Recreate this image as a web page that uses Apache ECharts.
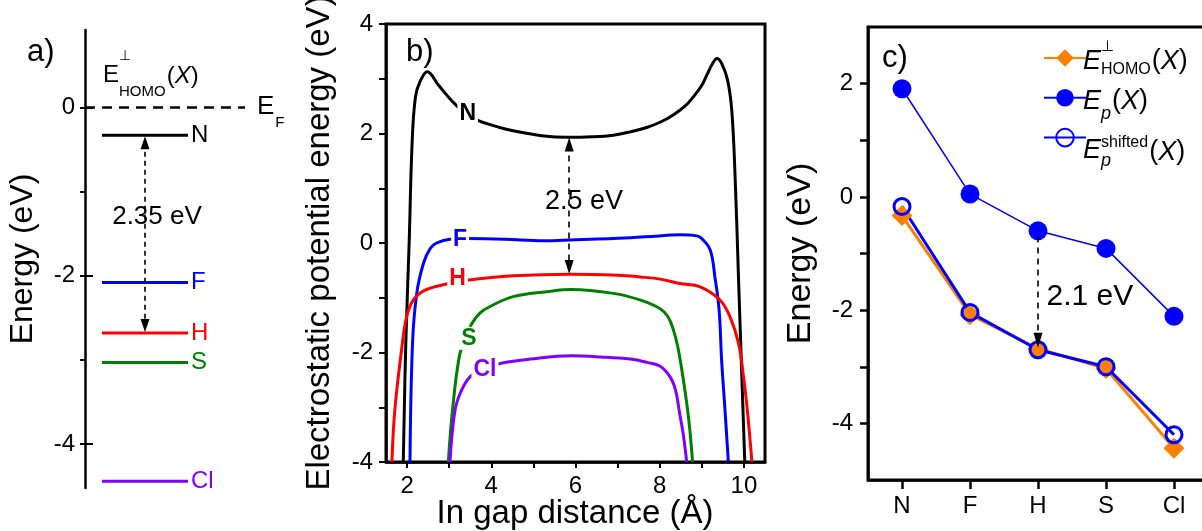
<!DOCTYPE html>
<html>
<head>
<meta charset="utf-8">
<script src="https://cdn.jsdelivr.net/npm/echarts@6/dist/echarts.min.js"></script>
<style>html,body{margin:0;padding:0;background:#fff}#chart{width:1202px;height:531px}</style>
</head>
<body>
<div id="chart"></div>
<script>
// ---------------- DATA ----------------
const species = ['N', 'F', 'H', 'S', 'Cl'];
const speciesColors = ['#000000', '#0000FF', '#FF0000', '#008000', '#8000FF'];
// E_HOMO^perp(X)  (panel a levels and panel c orange diamonds)
const homoLevels = [-0.33, -2.08, -2.68, -3.03, -4.44];
// E_p(X)  (panel c filled circles)
const epValues = [1.91, 0.05, -0.60, -0.91, -2.11];
// E_p^shifted(X)  (panel c open circles)
const epShiftedValues = [-0.17, -2.04, -2.70, -3.00, -4.20];

// panel b: electrostatic potential energy vs in-gap distance [Å, eV]
const potN = [[1.91,-4],[1.97,-1.83],[2.05,0],[2.12,1.83],[2.2,2.67],[2.31,2.95],[2.48,3.13],[2.75,2.88],[3.06,2.6],[3.3,2.42],[3.65,2.25],[4.2,2.11],[4.52,2.05],[5.2,1.96],[5.8,1.93],[6.4,1.94],[6.9,1.97],[7.3,2.03],[7.69,2.11],[8.02,2.21],[8.32,2.34],[8.6,2.5],[8.8,2.67],[9.0,2.88],[9.12,3.07],[9.25,3.27],[9.36,3.37],[9.47,3.28],[9.61,2.98],[9.71,2.43],[9.79,1.21],[9.87,-0.62],[9.95,-2.44],[10.02,-4]];
const potF = [[2.07,-4],[2.13,-1.83],[2.23,-0.92],[2.39,-0.37],[2.55,-0.1],[2.7,0],[3.02,0.07],[3.42,0.08],[4.3,0.07],[5.24,0.04],[6.0,0.06],[6.9,0.08],[7.8,0.12],[8.48,0.15],[8.88,0.13],[9.0,0.08],[9.2,-0.13],[9.31,-0.62],[9.41,-1.22],[9.47,-2.14],[9.55,-3.05],[9.63,-4]];
const potH = [[1.64,-4],[1.71,-3.05],[1.87,-1.95],[1.99,-1.35],[2.15,-1.04],[2.43,-0.86],[2.94,-0.75],[3.42,-0.68],[4.52,-0.6],[5.87,-0.57],[7.0,-0.59],[7.53,-0.62],[8.01,-0.66],[8.48,-0.74],[8.96,-0.8],[9.43,-1.04],[9.67,-1.35],[9.87,-1.83],[9.99,-2.44],[10.08,-3.05],[10.19,-4]];
const potS = [[2.98,-4],[3.08,-3.05],[3.24,-2.08],[3.4,-1.7],[3.54,-1.47],[3.73,-1.28],[3.97,-1.16],[4.52,-0.98],[5.32,-0.89],[5.9,-0.85],[6.9,-0.92],[7.53,-1.04],[8.01,-1.2],[8.2,-1.35],[8.33,-1.6],[8.43,-1.9],[8.5,-2.2],[8.6,-2.7],[8.7,-3.3],[8.78,-4]];
const potCl = [[3.02,-4],[3.14,-3.05],[3.3,-2.68],[3.5,-2.44],[3.8,-2.3],[4.21,-2.2],[4.92,-2.12],[5.9,-2.06],[6.6,-2.08],[7.3,-2.12],[7.7,-2.18],[8.01,-2.25],[8.25,-2.45],[8.38,-2.7],[8.47,-3.1],[8.56,-3.5],[8.64,-4]];
const potCurves = [potN, potF, potH, potS, potCl];

// tick values / labels
const aYTicks = [0, -1, -2, -3, -4];
const aYLabels = [0, -2, -4];
const bXTicks = [2, 3, 4, 5, 6, 7, 8, 9, 10];
const bXLabels = [2, 4, 6, 8, 10];
const bYTicks = [-4, -3, -2, -1, 0, 1, 2, 3, 4];
const bYLabels = [-4, -2, 0, 2, 4];
const cYTicks = [-4, -3, -2, -1, 0, 1, 2];
const cYLabels = [-4, -2, 0, 2];

// annotations
const gapA = '2.35 eV', gapB = '2.5 eV', gapC = '2.1 eV';

// ---------------- STYLE / LAYOUT ----------------
const FONT = "'Liberation Sans', Arial, Helvetica, sans-serif";
const AX = '#000';
const ORANGE = '#FF8000', BLUE = '#0000FF';

const mctx = document.createElement('canvas').getContext('2d');
function tw(t, size, fstyle) { mctx.font = (fstyle || 'normal') + ' ' + size + 'px ' + FONT; return mctx.measureText(t).width; }
function txt(x, y, text, size, fstyle, align) {
  return { type: 'text', x: x, y: y, z: 100,
    style: { text: text, fontSize: size, fontFamily: FONT, fontStyle: fstyle || 'normal', fill: '#000',
      textAlign: align || 'left', textVerticalAlign: 'middle', align: align || 'left', verticalAlign: 'middle' } };
}
function tailX(x, y, size) {
  return { type: 'text', x: x, y: y, z: 100,
    style: { text: '{n|(}{i|X}{n|)}', fill: '#000', textAlign: 'left', textVerticalAlign: 'middle', align: 'left', verticalAlign: 'middle',
      rich: { n: { fontSize: size, fontFamily: FONT, fill: '#000' }, i: { fontSize: size, fontFamily: FONT, fontStyle: 'italic', fill: '#000' } } } };
}
// symbol with stacked super/subscript then "(X)"
function scripted(x, y, o) {
  const els = [];
  const ms = o.mainItalic ? 'italic' : 'normal';
  els.push(txt(x, y, o.main, o.mainSize, ms));
  const x2 = x + tw(o.main, o.mainSize, ms) + (o.gap || 0);
  let w = 0;
  if (o.sup) { els.push(txt(x2 + (o.supDx || 0), y + o.supDy, o.sup, o.supSize, 'normal')); w = Math.max(w, tw(o.sup, o.supSize) + (o.supDx || 0)); }
  if (o.sub) { const ss = o.subItalic ? 'italic' : 'normal'; els.push(txt(x2, y + o.subDy, o.sub, o.subSize, ss)); w = Math.max(w, tw(o.sub, o.subSize, ss)); }
  els.push(tailX(x2 + w + 1, y + (o.tailDy || 0), o.mainSize));
  return els;
}

const tickLabel = { color: AX, fontSize: 24, fontFamily: FONT };
const titleText = { color: AX, fontSize: 33, fontFamily: FONT };
const noLine = { show: false, onZero: false };
const blackLine = { show: true, onZero: false, lineStyle: { color: AX, width: 2.5 } };
const hiddenItem = { color: 'rgba(0,0,0,0)', opacity: 1 };

// panel a layout constants (x-axis units of the hidden axis)
const levelStart = 17, levelEnd = 103, efEnd = 160, arrowAx = 60;

const series = [];

// ---- panel a ----
species.forEach((s, i) => {
  series.push({
    name: 'a-' + s, type: 'line', xAxisIndex: 0, yAxisIndex: 0, symbol: 'none', silent: true,
    data: [[levelStart, homoLevels[i]], [levelEnd, homoLevels[i]]],
    lineStyle: { color: speciesColors[i], width: 3 },
    endLabel: { show: true, formatter: s, color: speciesColors[i], fontSize: 24, fontFamily: FONT, distance: 3 }
  });
});
series.push({
  name: 'EF', type: 'line', xAxisIndex: 0, yAxisIndex: 0, symbol: 'none', silent: true,
  data: [[0, 0], [efEnd, 0]],
  lineStyle: { color: '#000', width: 2.4, type: [10, 7] },
  markLine: {
    silent: true, symbol: ['triangle', 'triangle'], symbolSize: [9, 13], label: { show: false },
    lineStyle: { color: '#000', width: 1.6, type: [5, 4] },
    data: [[{ coord: [arrowAx, homoLevels[0] - 0.09] }, { coord: [arrowAx, homoLevels[2] + 0.09] }]]
  }
});
series.push({
  name: 'a-note', type: 'scatter', xAxisIndex: 0, yAxisIndex: 0, silent: true, symbolSize: 1,
  itemStyle: hiddenItem,
  data: [[arrowAx + 12, -1.3]],
  label: { show: true, position: 'inside', formatter: gapA, color: '#000', opacity: 1, textBorderWidth: 0, fontSize: 26, fontFamily: FONT }
});

// ---- panel b ----
species.forEach((s, i) => {
  series.push({
    name: 'b-' + s, type: 'line', xAxisIndex: 1, yAxisIndex: 2, symbol: 'none', silent: true,
    smooth: 0.4, clip: true,
    data: potCurves[i],
    lineStyle: { color: speciesColors[i], width: 3 }
  });
});
const bLabelPos = [[3.44, 2.37], [3.26, 0.06], [3.2, -0.65], [3.47, -1.74], [3.85, -2.32]];
series.push({
  name: 'b-labels', type: 'scatter', xAxisIndex: 1, yAxisIndex: 2, silent: true, symbolSize: 1, z: 5,
  itemStyle: hiddenItem,
  data: species.map((s, i) => ({ value: bLabelPos[i],
    label: { show: true, position: 'inside', formatter: s, color: speciesColors[i], opacity: 1, textBorderWidth: 0,
      fontSize: 23, fontWeight: 'bold', fontFamily: FONT, backgroundColor: '#fff', padding: [0, 2, 0, 2] } }))
});
series.push({
  name: 'b-arrow', type: 'scatter', xAxisIndex: 1, yAxisIndex: 2, silent: true, symbolSize: 1,
  itemStyle: hiddenItem,
  data: [[6.2, 0.75]],
  label: { show: true, position: 'inside', formatter: gapB, color: '#000', opacity: 1, textBorderWidth: 0, fontSize: 27, fontFamily: FONT },
  markLine: {
    silent: true, symbol: ['triangle', 'triangle'], symbolSize: [9, 14], label: { show: false },
    lineStyle: { color: '#000', width: 1.6, type: [6, 5] },
    data: [[{ coord: [5.85, 1.93 - 0.13] }, { coord: [5.85, -0.57 + 0.13] }]]
  }
});

// ---- panel c ----
series.push({
  name: 'E⊥HOMO(X)', type: 'line', xAxisIndex: 2, yAxisIndex: 4, silent: true,
  data: homoLevels, symbol: 'diamond', symbolSize: 21,
  itemStyle: { color: ORANGE }, lineStyle: { color: ORANGE, width: 3 }
});
series.push({
  name: 'Ep(X)', type: 'line', xAxisIndex: 2, yAxisIndex: 4, silent: true,
  data: epValues, symbol: 'circle', symbolSize: 19,
  itemStyle: { color: BLUE }, lineStyle: { color: BLUE, width: 1.5 },
  markLine: {
    silent: true, symbol: ['none', 'triangle'], symbolSize: [9, 15], label: { show: false },
    lineStyle: { color: '#000', width: 1.6, type: [6, 5] },
    data: [[{ coord: ['H', epValues[2] - 0.1] }, { coord: ['H', epShiftedValues[2] + 0.17] }]]
  }
});
series.push({
  name: 'Ep shifted(X)', type: 'line', xAxisIndex: 2, yAxisIndex: 4, silent: true,
  data: epShiftedValues, symbol: 'circle', symbolSize: 16,
  itemStyle: { color: 'rgba(0,0,0,0)', borderColor: BLUE, borderWidth: 3 },
  lineStyle: { color: BLUE, width: 3 }
});
series.push({
  name: 'c-note', type: 'scatter', xAxisIndex: 2, yAxisIndex: 4, silent: true, symbolSize: 1,
  itemStyle: hiddenItem,
  data: [['H', -1.77]],
  label: { show: true, position: 'right', distance: 8, formatter: gapC, color: '#000', opacity: 1, textBorderWidth: 0, fontSize: 30, fontFamily: FONT }
});

// ---------------- GRAPHIC TEXT (panel tags, scripted labels, b x-title) ----------------
const graphics = [];
graphics.push(txt(27, 52, 'a)', 31));
graphics.push(txt(406, 52, 'b)', 31));
graphics.push(txt(882, 58, 'c)', 31));
graphics.push(txt(575, 514, 'In gap distance (Å)', 33, 'normal', 'center'));
// panel a header  E⊥HOMO(X)
scripted(103, 75, { main: 'E', mainSize: 24, sup: '⊥', supSize: 14, supDy: -19, sub: 'HOMO', subSize: 15, subDy: 17, tailDy: 1 }).forEach(e => graphics.push(e));
// E_F
graphics.push(txt(257, 107, 'E', 26));
graphics.push(txt(257 + tw('E', 26) + 1, 123, 'F', 15));
// panel c legend texts
scripted(1083, 61, { main: 'E', mainSize: 27, mainItalic: true, sup: '⊥', supSize: 15, supDy: -14, sub: 'HOMO', subSize: 16, subDy: 9, tailDy: 0 }).forEach(e => graphics.push(e));
scripted(1083, 101, { main: 'E', mainSize: 27, mainItalic: true, sub: 'p', subSize: 18, subItalic: true, subDy: 13, tailDy: 0 }).forEach(e => graphics.push(e));
scripted(1083, 150, { main: 'E', mainSize: 27, mainItalic: true, sup: 'shifted', supSize: 16, supDy: -7, sub: 'p', subSize: 18, subItalic: true, subDy: 11, tailDy: 2 }).forEach(e => graphics.push(e));

// ---------------- OPTION ----------------
const gridBox = { show: true, borderColor: '#000', borderWidth: 3, backgroundColor: 'rgba(0,0,0,0)', containLabel: false, outerBoundsMode: 'none' };
const option = {
  backgroundColor: '#fff',
  animation: false,
  textStyle: { fontFamily: FONT },
  grid: [
    { left: 85, top: 30, width: 200, height: 458, show: false, containLabel: false, outerBoundsMode: 'none' },
    Object.assign({ left: 386, top: 24, width: 379, height: 438 }, gridBox),
    Object.assign({ left: 868, top: 27, width: 340, height: 453 }, gridBox)
  ],
  xAxis: [
    { gridIndex: 0, type: 'value', min: 0, max: 200, show: false },
    { gridIndex: 1, type: 'value', min: 1.5, max: 10.5, position: 'bottom',
      axisLine: blackLine,
      axisTick: { show: true, inside: false, customValues: bXTicks, length: 6, lineStyle: { color: AX, width: 2 } },
      axisLabel: { show: true, customValues: bXLabels, margin: 12, ...tickLabel },
      splitLine: { show: false } },
    { gridIndex: 2, type: 'category', data: species, boundaryGap: true, position: 'bottom',
      axisLine: blackLine,
      axisTick: { show: true, inside: false, alignWithLabel: true, length: 9, lineStyle: { color: AX, width: 2.5 } },
      axisLabel: { show: true, margin: 14, interval: 0, ...tickLabel },
      splitLine: { show: false } }
  ],
  yAxis: [
    { gridIndex: 0, type: 'value', min: -4.52, max: 0.92, position: 'left',
      axisLine: blackLine,
      axisTick: { show: true, inside: false, customValues: aYTicks, length: 5, lineStyle: { color: AX, width: 2 } },
      axisLabel: { show: true, customValues: aYLabels, margin: 10, ...tickLabel },
      splitLine: { show: false },
      name: 'Energy (eV)', nameLocation: 'middle', nameGap: 46, nameMoveOverlap: false, nameTextStyle: { ...titleText, fontSize: 32 } },
    { gridIndex: 0, type: 'value', min: -4.52, max: 0.92, position: 'left', offset: 0,
      axisLine: noLine,
      axisTick: { show: true, inside: true, customValues: aYLabels, length: 8, lineStyle: { color: AX, width: 2 } },
      axisLabel: { show: false }, splitLine: { show: false } },
    { gridIndex: 1, type: 'value', min: -4, max: 4, position: 'left',
      axisLine: blackLine,
      axisTick: { show: true, inside: false, customValues: bYTicks, length: 7, lineStyle: { color: AX, width: 2 } },
      axisLabel: { show: true, customValues: bYLabels, margin: 13, ...tickLabel },
      splitLine: { show: false },
      name: 'Electrostatic potential energy (eV)', nameLocation: 'middle', nameGap: 50, nameMoveOverlap: false, nameTextStyle: titleText },
    { gridIndex: 1, type: 'value', min: -4, max: 4, position: 'right',
      axisLine: noLine, axisTick: { show: false }, axisLabel: { show: false }, splitLine: { show: false } },
    { gridIndex: 2, type: 'value', min: -5, max: 3, position: 'left',
      axisLine: blackLine,
      axisTick: { show: true, inside: false, customValues: cYTicks, length: 8, lineStyle: { color: AX, width: 2.5 } },
      axisLabel: { show: true, customValues: cYLabels, margin: 15, ...tickLabel },
      splitLine: { show: false },
      name: 'Energy (eV)', nameLocation: 'middle', nameGap: 50, nameMoveOverlap: false, nameTextStyle: { ...titleText, fontSize: 34 } }
  ],
  legend: {
    data: ['E⊥HOMO(X)', 'Ep(X)', 'Ep shifted(X)'], orient: 'vertical', left: 1038, top: 42,
    itemWidth: 42, itemHeight: 22, itemGap: 20, selectedMode: false,
    formatter: function () { return ''; }, textStyle: { fontSize: 1, color: 'rgba(0,0,0,0)' }
  },
  graphic: graphics,
  series: series
};

const chart = echarts.init(document.getElementById('chart'), null, { renderer: 'canvas' });
chart.setOption(option);
</script>
</body>
</html>
